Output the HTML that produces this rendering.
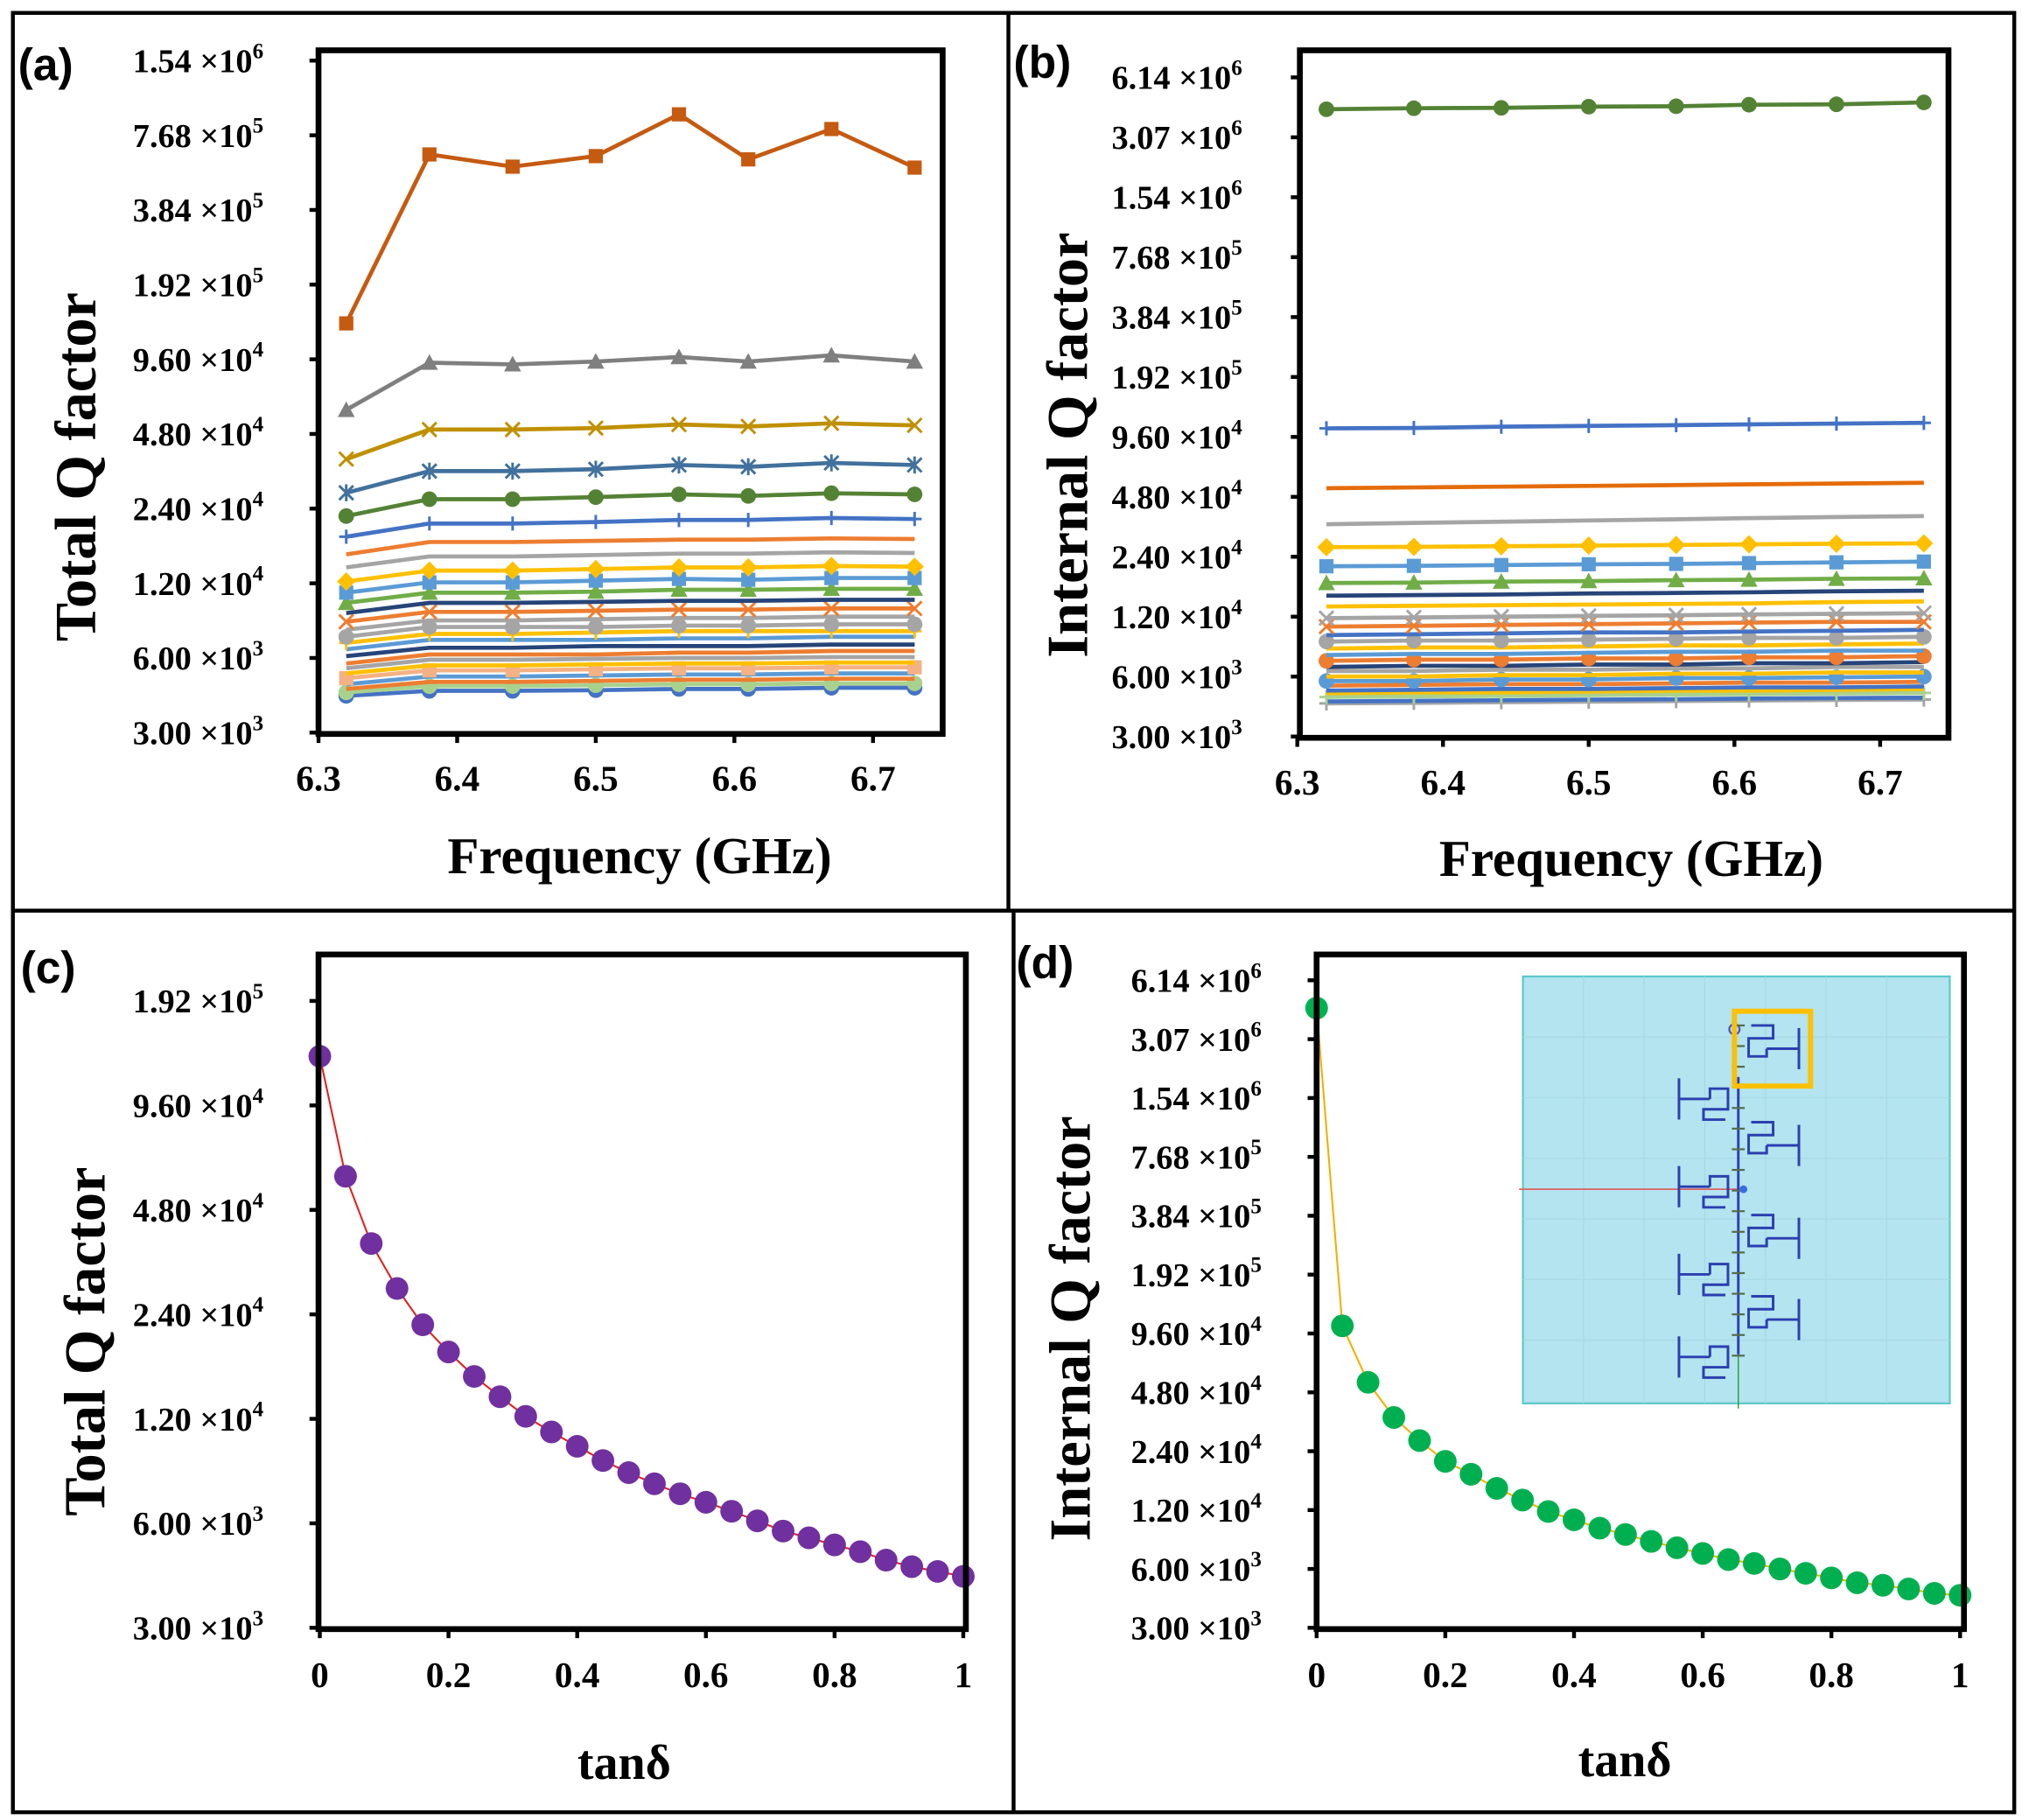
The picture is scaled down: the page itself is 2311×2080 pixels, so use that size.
<!DOCTYPE html>
<html><head><meta charset="utf-8">
<style>
html,body{margin:0;padding:0;background:#fff;}
svg{display:block;}
text{font-family:"Liberation Serif",serif;font-weight:bold;fill:#000;}
.pl{font-family:"Liberation Sans",sans-serif;}
</style></head>
<body>
<svg id="fig" width="2311" height="2080" viewBox="0 0 1568 1411" preserveAspectRatio="none" xmlns="http://www.w3.org/2000/svg">
  <rect x="10" y="10" width="1552" height="1395" fill="#fff" stroke="#000" stroke-width="3"/>
  <line x1="782" y1="10" x2="782" y2="706" stroke="#000" stroke-width="3"/>
  <line x1="786" y1="706" x2="786" y2="1405" stroke="#000" stroke-width="3"/>
  <line x1="10" y1="706" x2="1562" y2="706" stroke="#000" stroke-width="3"/>

  <text class="pl" x="14" y="62" font-size="35">(a)</text>
  <text class="pl" x="786" y="60" font-size="35">(b)</text>
  <text class="pl" x="16" y="762" font-size="35">(c)</text>
  <text class="pl" x="788" y="758" font-size="35">(d)</text>

  <text font-size="45" text-anchor="middle" transform="translate(74,362) rotate(-90)">Total Q factor</text>
  <text font-size="40" text-anchor="middle" x="496" y="677">Frequency (GHz)</text>
  <text font-size="45" text-anchor="middle" transform="translate(843,345) rotate(-90)">Internal Q factor</text>
  <text font-size="40" text-anchor="middle" x="1265" y="679">Frequency (GHz)</text>
  <text font-size="45" text-anchor="middle" transform="translate(81,1040) rotate(-90)">Total Q factor</text>
  <text font-size="38" text-anchor="middle" x="484" y="1379">tanδ</text>
  <text font-size="45" text-anchor="middle" transform="translate(845,1030) rotate(-90)">Internal Q factor</text>
  <text font-size="38" text-anchor="middle" x="1260" y="1377">tanδ</text>

  <g id="layer"></g>
</svg>
<script>
// ---------- data ----------
const freqs = [6.32,6.38,6.44,6.5,6.56,6.61,6.67,6.73];
const tand = [0,0.04,0.08,0.12,0.16,0.2,0.24,0.28,0.32,0.36,0.4,0.44,0.48,0.52,0.56,0.6,0.64,0.68,0.72,0.76,0.8,0.84,0.88,0.92,0.96,1];
// panel (a) total Q vs frequency, in thousands
const totalQa = [
 [134,643,574,633,933,614,814,569],
 [60,93,91.6,94,98,94,99.6,94],
 [38,50,50,50.7,52.4,51.5,53,52],
 [27.8,34,34,34.6,36,35.4,36.7,36],
 [22.4,26.2,26.2,26.7,27.4,27,27.7,27.4],
 [18.5,20.9,20.9,21.2,21.6,21.6,22,21.8],
 [15.7,17.6,17.6,17.8,18,18,18.2,18.1],
 [13.9,15.4,15.4,15.6,15.8,15.8,16,15.9],
 [12.2,13.5,13.5,13.7,13.9,13.9,14.1,14],
 [11,12.1,12.1,12.3,12.5,12.4,12.6,12.6],
 [10,11,11,11.1,11.3,11.3,11.4,11.4],
 [9.1,10,10,10.1,10.2,10.2,10.3,10.3],
 [8.4,9.2,9.2,9.3,9.4,9.4,9.5,9.5],
 [7.8,8.5,8.5,8.6,8.7,8.7,8.8,8.8],
 [7.3,8,8,8,8.1,8.1,8.2,8.2],
 [6.9,7.5,7.5,7.6,7.7,7.7,7.7,7.7],
 [6.5,7.1,7.1,7.1,7.2,7.2,7.3,7.3],
 [6.1,6.6,6.6,6.7,6.7,6.7,6.8,6.8],
 [5.7,6.2,6.2,6.2,6.3,6.3,6.4,6.4],
 [5.45,5.9,5.9,5.95,6,6,6.05,6.05],
 [5.2,5.6,5.6,5.65,5.7,5.7,5.75,5.75],
 [4.97,5.35,5.35,5.4,5.45,5.45,5.5,5.5],
 [4.7,5.05,5.05,5.1,5.15,5.15,5.2,5.2],
 [4.5,4.8,4.8,4.85,4.9,4.9,4.95,4.95],
 [4.36,4.62,4.62,4.66,4.7,4.7,4.74,4.74],
 [4.22,4.42,4.42,4.45,4.5,4.5,4.55,4.55]
];
// panel (b) internal Q vs frequency, in thousands
const internalQb = [
 [4250,4300,4320,4380,4400,4480,4500,4600],
 [106,106.5,108,109,110,111,112,113],
 [53,53.5,54,54.5,55,55.5,56,56.5],
 [35,35.5,36,36.5,37,37.5,38,38.4],
 [26.8,26.9,27.1,27.3,27.5,27.7,27.9,28],
 [21.5,21.6,21.8,22,22.1,22.3,22.5,22.7],
 [17.7,17.8,18,18.1,18.3,18.4,18.6,18.7],
 [15.3,15.4,15.5,15.7,15.8,15.9,16.1,16.2],
 [13.5,13.6,13.7,13.8,13.9,14,14.2,14.3],
 [11.8,11.9,12,12.1,12.2,12.3,12.4,12.5],
 [10.7,10.8,10.9,11,11.1,11.2,11.3,11.3],
 [9.7,9.8,9.9,10,10,10.1,10.2,10.3],
 [9,9.1,9.1,9.2,9.3,9.4,9.4,9.5],
 [8.3,8.4,8.4,8.5,8.6,8.6,8.7,8.8],
 [7.7,7.8,7.8,7.9,8,8,8.1,8.1],
 [7.2,7.3,7.3,7.4,7.4,7.5,7.5,7.6],
 [6.7,6.8,6.8,6.9,6.9,7,7,7.1],
 [6.4,6.4,6.5,6.5,6.6,6.6,6.7,6.7],
 [6,6,6.1,6.1,6.2,6.2,6.3,6.3],
 [5.7,5.7,5.8,5.8,5.9,5.9,5.95,6],
 [5.4,5.45,5.5,5.5,5.55,5.6,5.6,5.65],
 [5.1,5.15,5.2,5.2,5.25,5.3,5.3,5.35],
 [4.95,5,5,5.05,5.1,5.1,5.15,5.2],
 [4.74,4.78,4.8,4.84,4.88,4.9,4.94,4.97],
 [4.5,4.53,4.56,4.6,4.62,4.65,4.68,4.7],
 [4.4,4.43,4.46,4.49,4.52,4.55,4.58,4.6]
];
// panel (c) total Q vs tanδ, thousands
const totalQc = [133,60,38.4,28.5,22.4,18.7,15.9,13.9,12.2,11,10,9.1,8.4,7.8,7.3,6.9,6.5,6.1,5.7,5.45,5.2,4.97,4.7,4.5,4.36,4.22];
// panel (d) internal Q vs tanδ, thousands
const internalQd = [4430,105,54,35.7,27.2,21.3,18.3,15.5,13.5,11.8,10.7,9.7,9,8.3,7.7,7.2,6.7,6.4,6,5.7,5.4,5.1,4.95,4.74,4.5,4.4];
// ticks
const ticksA = [1536000,768000,384000,192000,96000,48000,24000,12000,6000,3000];
const labelsA = ["1.54","7.68","3.84","1.92","9.60","4.80","2.40","1.20","6.00","3.00"];
const expA = [6,5,5,5,4,4,4,4,3,3];
const ticksB = [6144000,3072000,1536000,768000,384000,192000,96000,48000,24000,12000,6000,3000];
const labelsB = ["6.14","3.07","1.54","7.68","3.84","1.92","9.60","4.80","2.40","1.20","6.00","3.00"];
const expB = [6,6,6,5,5,5,4,4,4,4,3,3];
const ticksC = [192000,96000,48000,24000,12000,6000,3000];
const labelsC = ["1.92","9.60","4.80","2.40","1.20","6.00","3.00"];
const expC = [5,4,4,4,4,3,3];
const freqTicks = [6.3,6.4,6.5,6.6,6.7];
const freqTickLabels = ["6.3","6.4","6.5","6.6","6.7"];
const tandTicks = [0,0.2,0.4,0.6,0.8,1];
const tandTickLabels = ["0","0.2","0.4","0.6","0.8","1"];

// ---------- styles ----------
const stylesA = [
 ["#C55A11","square"],["#7F7F7F","triangle"],["#BF9000","x"],["#41719C","star"],["#548235","circle"],["#4472C4","plus"],
 ["#ED7D31","none"],["#A5A5A5","none"],["#FFC000","diamond"],["#5B9BD5","square"],["#70AD47","triangle"],["#264478","none"],
 ["#ED7D31","x"],["#A5A5A5","none"],["#A5A5A5","circle"],["#FFC000","plus"],["#5B9BD5","none"],["#264478","none"],
 ["#ED7D31","none"],["#A5A5A5","none"],["#FFC000","none"],["#F4B183","square"],["#5B9BD5","none"],["#ED7D31","none"],
 ["#A9D18E","circle"],["#4472C4","circle"]];
const stylesB = [
 ["#548235","circle"],["#4472C4","plus"],["#E46C0A","none"],["#A5A5A5","none"],["#FFC000","diamond"],["#5B9BD5","square"],
 ["#70AD47","triangle"],["#264478","none"],["#FFC000","none"],["#A5A5A5","x"],["#ED7D31","x"],["#4472C4","none"],
 ["#A5A5A5","circle"],["#FFC000","none"],["#5B9BD5","none"],["#ED7D31","circle"],["#264478","none"],["#A5A5A5","none"],
 ["#FFC000","none"],["#5B9BD5","circle"],["#ED7D31","none"],["#4472C4","none"],["#FFC000","none"],["#A9D18E","plus"],
 ["#4472C4","none"],["#A5A5A5","plus"]];

const NS = "http://www.w3.org/2000/svg";
const layer = document.getElementById('layer');
function el(tag, attrs, parent){
  const e = document.createElementNS(NS, tag);
  for (const k in attrs) e.setAttribute(k, attrs[k]);
  (parent||layer).appendChild(e);
  return e;
}
function lin(p0,p1,v0,v1){ return v => p0 + (v-v0)/(v1-v0)*(p1-p0); }
function logY(p0,p1,v0,v1){ return v => p0 + Math.log(v/v0)/Math.log(v1/v0)*(p1-p0); }

function marker(g, type, x, y, color, s){
  let m = null;
  if (type==="square") m = el('rect',{x:x-s,y:y-s,width:2*s,height:2*s,fill:color},g);
  else if (type==="circle") m = el('circle',{cx:x,cy:y,r:s*1.1,fill:color},g);
  else if (type==="triangle") m = el('polygon',{points:`${x},${y-s*1.2} ${x-s*1.2},${y+s} ${x+s*1.2},${y+s}`,fill:color},g);
  else if (type==="diamond") m = el('polygon',{points:`${x},${y-s*1.3} ${x+s*1.3},${y} ${x},${y+s*1.3} ${x-s*1.3},${y}`,fill:color},g);
  else if (type==="x") m = el('path',{d:`M${x-s},${y-s}L${x+s},${y+s}M${x-s},${y+s}L${x+s},${y-s}`,stroke:color,'stroke-width':2,fill:'none'},g);
  else if (type==="plus") m = el('path',{d:`M${x-s},${y}L${x+s},${y}M${x},${y-s}L${x},${y+s}`,stroke:color,'stroke-width':2,fill:'none'},g);
  else if (type==="star") m = el('path',{d:`M${x-s},${y-s}L${x+s},${y+s}M${x-s},${y+s}L${x+s},${y-s}M${x},${y-s*1.2}L${x},${y+s*1.2}`,stroke:color,'stroke-width':2,fill:'none'},g);
  if (m){
    
    
  }
}

function drawAxes(name, box, Y, ticks, labels, exps, labelX, X, xt, xl, xlabelY){
  const b = el('rect',{x:box[0],y:box[1],width:box[2]-box[0],height:box[3]-box[1],fill:'none',stroke:'#000','stroke-width':4.5});
  
  
  ticks.forEach((t,i)=>{
    const y = Y(t);
    const tk = el('line',{x1:box[0]-7,y1:y,x2:box[0],y2:y,stroke:'#000','stroke-width':3});
    
    
    const tx = el('text',{x:labelX,y:y+9,'font-size':26});
    
    
    tx.appendChild(document.createTextNode(labels[i]+" \u00d710"));
    const sp = el('tspan',{dy:-11,'font-size':17},tx);
    sp.textContent = String(exps[i]);
  });
  xt.forEach((t,i)=>{
    const x = X(t);
    const tk = el('line',{x1:x,y1:box[3],x2:x,y2:box[3]+7,stroke:'#000','stroke-width':3});
    
    
    const tx = el('text',{x:x,y:xlabelY,'font-size':28,'text-anchor':'middle'});
    
    
    tx.textContent = xl[i];
  });
}

function drawSeriesSet(name, X, Y, xs, sets, styles, ms){
  sets.forEach((vals,k)=>{
    const g = el('g',{});
    
    
    const pts = vals.map((v,i)=>X(xs[i]).toFixed(1)+','+Y(v*1000).toFixed(1)).join(' ');
    const pl = el('polyline',{points:pts,fill:'none',stroke:styles[k][0],'stroke-width':3.2,'stroke-linejoin':'round'},g);
    
    
    vals.forEach((v,i)=>marker(g, styles[k][1], X(xs[i]), Y(v*1000), styles[k][0], ms));
  });
}

function drawCurve(name, X, Y, xs, vals, lineColor, dotColor){
  const g = el('g',{});
  
  
  const pts = vals.map((v,i)=>X(xs[i]).toFixed(1)+','+Y(v*1000).toFixed(1)).join(' ');
  const pl = el('polyline',{points:pts,fill:'none',stroke:lineColor,'stroke-width':1.4},g);
  
  
  vals.forEach((v,i)=>{
    const c = el('circle',{cx:X(xs[i]),cy:Y(v*1000),r:8.8,fill:dotColor},g);
    
    
  });
}

// Panel (a)
const XA = lin(247,677,6.3,6.7), YA = logY(568,47,3000,1536000);
drawSeriesSet('panel-a', XA, YA, freqs, totalQa.slice().reverse(), stylesA.slice().reverse(), 5.5);
drawAxes('panel-a',[247,39,731,569],YA,ticksA,labelsA,expA,103,XA,freqTicks,freqTickLabels,613);

// Panel (b)
const XB = lin(1006,1458,6.3,6.7), YB = logY(571,60,3000,6144000);
drawSeriesSet('panel-b', XB, YB, freqs, internalQb.slice().reverse(), stylesB.slice().reverse(), 5.5);
drawAxes('panel-b',[1008,39,1511,572],YB,ticksB,labelsB,expB,862,XB,freqTicks,freqTickLabels,616);

// Panel (c)
const XC = lin(248,747,0,1), YC = logY(1262,776,3000,192000);
drawCurve('panel-c', XC, YC, tand, totalQc, '#E02020', '#7030A0');
drawAxes('panel-c',[247,740,749,1263],YC,ticksC,labelsC,expC,103,XC,tandTicks,tandTickLabels,1308);

// Panel (d) inset
(function(){
  const g = el('g',{});
  
  
  el('rect',{x:1181,y:757,width:331,height:331,fill:'#B3E4EF',stroke:'#5CC8CC','stroke-width':1.5},g);
  for(let i=1;i<7;i++){ el('line',{x1:1181+i*47,y1:757,x2:1181+i*47,y2:1088,stroke:'#A6DAE6','stroke-width':0.8},g);
    el('line',{x1:1181,y1:757+i*47,x2:1512,y2:757+i*47,stroke:'#A6DAE6','stroke-width':0.8},g); }
  el('line',{x1:1178,y1:922,x2:1350,y2:922,stroke:'#E06060','stroke-width':1.2},g);
  el('line',{x1:1348,y1:835,x2:1348,y2:1050,stroke:'#2B3FB0','stroke-width':2},g);
  el('line',{x1:1348,y1:1050,x2:1348,y2:1092,stroke:'#2E9E3E','stroke-width':1},g);
  el('circle',{cx:1345,cy:798,r:4,fill:'none',stroke:'#4A55C8','stroke-width':1.5},g);
  for(let i=0;i<17;i++){ const y=795+i*16; el('line',{x1:1343,y1:y,x2:1353,y2:y,stroke:'#556B4A','stroke-width':1.5},g); }
  const blue='#2B3FB0';
  [805,880,952,1015].forEach(y=>{
    el('path',{d:`M1370,${y+8}H1395M1395,${y-8}V${y+24}M1370,${y+8}V${y+14}H1356V${y}H1375V${y-10}H1358`,fill:'none',stroke:blue,'stroke-width':2},g);
  });
  [852,920,988,1052].forEach(y=>{
    el('path',{d:`M1326,${y}H1302M1302,${y-16}V${y+16}M1326,${y}V${y-8}H1340V${y+8}H1321V${y+16}H1338`,fill:'none',stroke:blue,'stroke-width':2},g);
  });
  el('circle',{cx:1352,cy:922,r:3,fill:'#3A6CE0'},g);
  const ob = el('rect',{x:1345,y:784,width:59,height:58,fill:'none',stroke:'#FFC000','stroke-width':4},g);
  
  
})();

// Panel (d)
const XD = lin(1021,1520,0,1), YD = logY(1262,760,3000,6144000);
drawCurve('panel-d', XD, YD, tand, internalQd, '#F0B000', '#00B050');
drawAxes('panel-d',[1021,740,1523,1263],YD,ticksB,labelsB,expB,877,XD,tandTicks,tandTickLabels,1308);
</script>
</body></html>
